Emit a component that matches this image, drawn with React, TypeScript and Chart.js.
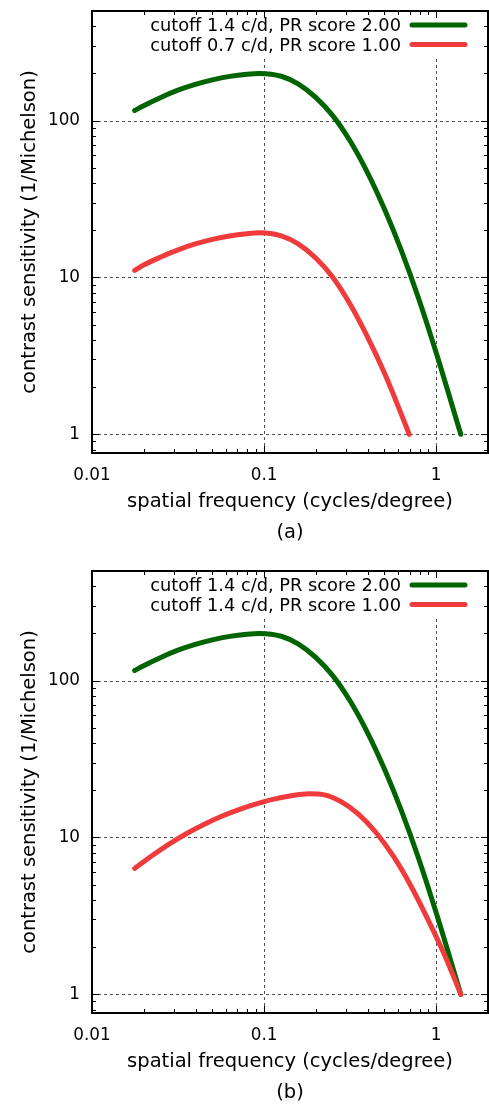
import React, { useEffect, useRef } from 'react';
import { Chart, registerables } from 'chart.js';

Chart.register(...registerables);

const FONT = "'DejaVu Sans', 'Liberation Sans', Arial, sans-serif";

// ---- axes ----
const X_TICKS = [0.01, 0.1, 1];
const X_TICK_LABELS = ['0.01', '0.1', '1'];
const Y_TICKS = [1, 10, 100];
const Y_TICK_LABELS = ['1', '10', '100'];
const X_MIN = 0.01;
const X_MAX = 2;
const Y_MIN = 0.76;
const Y_MAX = 500;
const X_TITLE = 'spatial frequency (cycles/degree)';
const Y_TITLE = 'contrast sensitivity (1/Michelson)';

// ---- series ----
const GREEN_FREQ = [0.0177, 0.01995, 0.0251, 0.0316, 0.0398, 0.0501, 0.0631, 0.0794, 0.094, 0.1259, 0.1585, 0.1995, 0.2512, 0.3162, 0.3981, 0.5012, 0.631, 0.794, 1.0, 1.39];
const GREEN_CS = [116, 124.5, 140.6, 156.3, 170.2, 182, 191.4, 197.7, 200, 191.9, 171, 140.6, 107.2, 74.1, 46.8, 27.2, 14.6, 7.24, 3.31, 1.0];

const RED_A_FREQ = [0.0177, 0.01995, 0.0251, 0.0316, 0.0398, 0.0501, 0.0631, 0.0794, 0.094, 0.1259, 0.1585, 0.1995, 0.2512, 0.3162, 0.3981, 0.5012, 0.631, 0.697];
const RED_A_CS = [11.1, 12.0, 13.5, 15.0, 16.35, 17.5, 18.4, 19.0, 19.25, 18.4, 16.3, 13.3, 10.0, 6.75, 4.2, 2.45, 1.32, 1.0];

const RED_B_FREQ = [0.0177, 0.0224, 0.0282, 0.0355, 0.0447, 0.0562, 0.0708, 0.0891, 0.1122, 0.1413, 0.183, 0.2239, 0.2818, 0.3548, 0.4467, 0.5623, 0.7079, 0.8913, 1.122, 1.39];
const RED_B_CS = [6.35, 7.67, 9.1, 10.6, 12.1, 13.6, 15.0, 16.3, 17.5, 18.4, 19.0, 18.7, 16.87, 14.03, 10.76, 7.62, 4.98, 3.03, 1.77, 1.0];

const LABEL_GREEN = 'cutoff 1.4 c/d, PR score 2.00';
const LABEL_RED_A = 'cutoff 0.7 c/d, PR score 1.00';
const LABEL_RED_B = 'cutoff 1.4 c/d, PR score 1.00';
const CAPTION_A = '(a)';
const CAPTION_B = '(b)';

const GREEN = '#006400';
const RED = '#ef3b3b';

const W = 489;
const H = 545;

function minorValues(min: number, max: number): number[] {
  const out: number[] = [];
  for (let d = 0.001; d <= 1000; d *= 10) {
    for (let m = 2; m <= 9; m++) {
      const v = +(m * d).toPrecision(6);
      if (v > min * 1.0001 && v < max * 0.9999) out.push(v);
    }
  }
  return out;
}

const framePlugin = {
  id: 'gnuFrame',
  beforeDatasetsDraw(chart: any) {
    const { ctx, chartArea: a, scales } = chart;
    const x = scales.x;
    const y = scales.y;
    ctx.save();
    ctx.strokeStyle = '#505050';
    ctx.lineWidth = 1;
    ctx.setLineDash([3, 3]);
    X_TICKS.forEach((v) => {
      const px = Math.round(x.getPixelForValue(v)) + 0.5;
      ctx.beginPath();
      ctx.moveTo(px, a.top);
      ctx.lineTo(px, a.bottom);
      ctx.stroke();
    });
    Y_TICKS.forEach((v) => {
      const py = Math.round(y.getPixelForValue(v)) + 0.5;
      ctx.beginPath();
      ctx.moveTo(a.left, py);
      ctx.lineTo(a.right, py);
      ctx.stroke();
    });
    ctx.restore();
  },
  afterDatasetsDraw(chart: any, _args: any, opts: any) {
    const { ctx, chartArea: a, scales } = chart;
    const x = scales.x;
    const y = scales.y;
    ctx.save();
    // opaque key box
    ctx.fillStyle = '#ffffff';
    ctx.fillRect(140, a.top + 1, a.right - 8 - 140, 45);
    // key entries
    const entries = opts.entries || [];
    entries.forEach((e: any, i: number) => {
      const ly = a.top + 14 + i * 19.5;
      ctx.fillStyle = '#000';
      ctx.font = `17.8px ${FONT}`;
      ctx.textAlign = 'right';
      ctx.textBaseline = 'middle';
      ctx.fillText(e.text, a.right - 87, ly + 1.5);
      ctx.strokeStyle = e.color;
      ctx.lineWidth = 5;
      ctx.lineCap = 'round';
      ctx.beginPath();
      ctx.moveTo(a.right - 76, ly);
      ctx.lineTo(a.right - 23, ly);
      ctx.stroke();
    });
    // tick marks (inward, all four sides)
    ctx.strokeStyle = '#000';
    ctx.lineWidth = 1;
    ctx.lineCap = 'butt';
    const xTick = (v: number, len: number) => {
      const px = Math.round(x.getPixelForValue(v)) + 0.5;
      ctx.beginPath();
      ctx.moveTo(px, a.bottom);
      ctx.lineTo(px, a.bottom - len);
      ctx.moveTo(px, a.top);
      ctx.lineTo(px, a.top + len);
      ctx.stroke();
    };
    const yTick = (v: number, len: number) => {
      const py = Math.round(y.getPixelForValue(v)) + 0.5;
      ctx.beginPath();
      ctx.moveTo(a.left, py);
      ctx.lineTo(a.left + len, py);
      ctx.moveTo(a.right, py);
      ctx.lineTo(a.right - len, py);
      ctx.stroke();
    };
    X_TICKS.forEach((v) => xTick(v, 7));
    minorValues(X_MIN, X_MAX).forEach((v) => xTick(v, 4));
    Y_TICKS.forEach((v) => yTick(v, 7));
    minorValues(Y_MIN, Y_MAX).forEach((v) => yTick(v, 4));
    // border
    ctx.lineWidth = 2;
    ctx.strokeRect(a.left, a.top, a.right - a.left, a.bottom - a.top);
    ctx.restore();
  },
};

function Panel(props: { top: number; redFreq: number[]; redCs: number[]; redLabel: string; caption: string }) {
  const ref = useRef<HTMLCanvasElement>(null);
  useEffect(() => {
    const common = {
      borderWidth: 5,
      pointRadius: 0,
      pointHoverRadius: 0,
      fill: false,
      cubicInterpolationMode: 'monotone' as const,
      borderCapStyle: 'round' as const,
      borderJoinStyle: 'round' as const,
    };
    const chart = new Chart(ref.current as HTMLCanvasElement, {
      type: 'line',
      data: {
        datasets: [
          {
            label: LABEL_GREEN,
            data: GREEN_FREQ.map((f, i) => ({ x: f, y: GREEN_CS[i] })),
            borderColor: GREEN,
            backgroundColor: GREEN,
            order: 1,
            ...common,
          },
          {
            label: props.redLabel,
            data: props.redFreq.map((f, i) => ({ x: f, y: props.redCs[i] })),
            borderColor: RED,
            backgroundColor: RED,
            order: 0,
            ...common,
          },
        ],
      },
      options: {
        responsive: false,
        animation: false,
        devicePixelRatio: 1,
        layout: { padding: { top: 11, right: 1, left: 0, bottom: 0 } },
        plugins: {
          legend: { display: false },
          tooltip: { enabled: false },
          title: {
            display: true,
            position: 'bottom',
            fullSize: false,
            text: props.caption,
            color: '#000',
            font: { family: FONT, size: 19.5, weight: 'normal', lineHeight: 1 },
            padding: { top: 0, bottom: 2 },
          },
          gnuFrame: {
            entries: [
              { text: LABEL_GREEN, color: GREEN },
              { text: props.redLabel, color: RED },
            ],
          },
        } as any,
        scales: {
          x: {
            type: 'logarithmic',
            min: X_MIN,
            max: X_MAX,
            grid: { display: false, drawTicks: false },
            border: { display: false },
            afterBuildTicks: (s: any) => {
              s.ticks = X_TICKS.map((v) => ({ value: v }));
            },
            afterFit: (s: any) => {
              s.height = 70.5;
              s.paddingLeft = 0;
              s.paddingRight = 0;
              s.paddingTop = 0;
              s.paddingBottom = 0;
            },
            ticks: {
              autoSkip: false,
              maxRotation: 0,
              minRotation: 0,
              padding: 13,
              color: '#000',
              font: { family: FONT, size: 16.8 },
              callback: (_v: any, i: number) => X_TICK_LABELS[i],
            },
            title: {
              display: true,
              text: X_TITLE,
              color: '#000',
              font: { family: FONT, size: 19.5 },
              padding: { top: 0, bottom: 10 },
            },
          },
          y: {
            type: 'logarithmic',
            min: Y_MIN,
            max: Y_MAX,
            grid: { display: false, drawTicks: false },
            border: { display: false },
            afterBuildTicks: (s: any) => {
              s.ticks = Y_TICKS.map((v) => ({ value: v }));
            },
            afterFit: (s: any) => {
              s.width = 92;
              s.paddingLeft = 0;
              s.paddingRight = 0;
              s.paddingTop = 0;
              s.paddingBottom = 0;
            },
            ticks: {
              autoSkip: false,
              padding: 12,
              color: '#000',
              font: { family: FONT, size: 16.8 },
              callback: (_v: any, i: number) => Y_TICK_LABELS[i],
            },
            title: {
              display: true,
              text: Y_TITLE,
              color: '#000',
              font: { family: FONT, size: 19.5 },
              padding: { top: 18.3, bottom: 0 },
            },
          },
        } as any,
      },
      plugins: [framePlugin as any],
    });
    return () => chart.destroy();
  }, []);
  return (
    <div style={{ position: 'absolute', left: 0, top: props.top, width: W, height: H }}>
      <canvas ref={ref} width={W} height={H} style={{ display: 'block', width: W, height: H }} />
    </div>
  );
}

export default function App() {
  return (
    <div style={{ position: 'absolute', left: 0, top: 0, width: 489, height: 1105, background: '#fff' }}>
      <Panel top={0} redFreq={RED_A_FREQ} redCs={RED_A_CS} redLabel={LABEL_RED_A} caption={CAPTION_A} />
      <Panel top={560} redFreq={RED_B_FREQ} redCs={RED_B_CS} redLabel={LABEL_RED_B} caption={CAPTION_B} />
    </div>
  );
}
